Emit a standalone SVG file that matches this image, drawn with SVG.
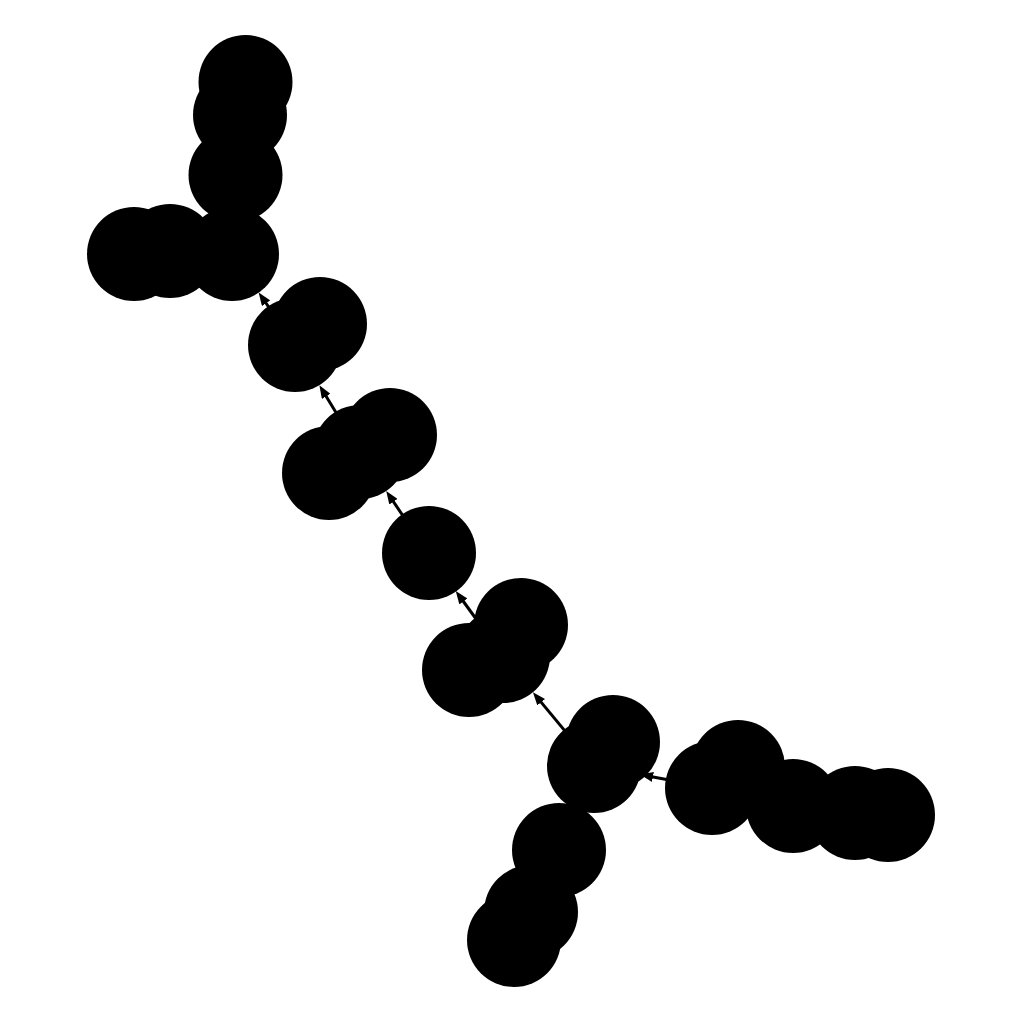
<svg xmlns="http://www.w3.org/2000/svg" width="1024" height="1024" viewBox="0 0 1024 1024">
<style>
.node circle{fill:#000;stroke:none}
.edge{stroke:#000;stroke-width:3;fill:none;marker-end:url(#arr)}
</style>
<defs>
<marker id="arr" markerUnits="userSpaceOnUse" markerWidth="13" markerHeight="10" refX="8" refY="5" orient="auto">
<path d="M0,0 L13,5 L0,10 z" fill="#000"/>
</marker>
</defs>
<rect width="1024" height="1024" fill="#fff"/>
<g id="connectors">
<line class="edge" x1="295" y1="345" x2="261.5" y2="296.7"/>
<line class="edge" x1="360" y1="452" x2="322" y2="389.5"/>
<line class="edge" x1="428" y1="553" x2="389" y2="495.1"/>
<line class="edge" x1="503" y1="656" x2="458.7" y2="595"/>
<line class="edge" x1="594" y1="766" x2="536.1" y2="696.1"/>
<line class="edge" x1="712" y1="788" x2="645.1" y2="775.5"/>
</g>
<g id="n1" class="node"><circle cx="245.5" cy="82" r="47"/></g>
<g id="n2" class="node"><circle cx="240" cy="115" r="47"/></g>
<g id="n3" class="node"><circle cx="235.5" cy="175" r="47"/></g>
<g id="n4" class="node"><circle cx="232" cy="254" r="47"/></g>
<g id="n5" class="node"><circle cx="134" cy="254" r="47"/></g>
<g id="n6" class="node"><circle cx="170" cy="251" r="47"/></g>
<g id="n7" class="node"><circle cx="320" cy="324" r="47"/></g>
<g id="n8" class="node"><circle cx="295" cy="345" r="47"/></g>
<g id="n9" class="node"><circle cx="390" cy="435" r="47"/></g>
<g id="n10" class="node"><circle cx="360" cy="452" r="47"/></g>
<g id="n11" class="node"><circle cx="329" cy="473" r="47"/></g>
<g id="n12" class="node"><circle cx="429" cy="553" r="47"/></g>
<g id="n13" class="node"><circle cx="521" cy="625" r="47"/></g>
<g id="n14" class="node"><circle cx="503" cy="656" r="47"/></g>
<g id="n15" class="node"><circle cx="469" cy="670" r="47"/></g>
<g id="n16" class="node"><circle cx="613" cy="742" r="47"/></g>
<g id="n17" class="node"><circle cx="594" cy="766" r="47"/></g>
<g id="n18" class="node"><circle cx="559" cy="850" r="47"/></g>
<g id="n19" class="node"><circle cx="531" cy="912" r="47"/></g>
<g id="n20" class="node"><circle cx="514" cy="940" r="47"/></g>
<g id="n21" class="node"><circle cx="738" cy="767" r="47"/></g>
<g id="n22" class="node"><circle cx="712" cy="788" r="47"/></g>
<g id="n23" class="node"><circle cx="793" cy="806" r="47"/></g>
<g id="n24" class="node"><circle cx="855" cy="813" r="47"/></g>
<g id="n25" class="node"><circle cx="888" cy="815" r="47"/></g>
</svg>
